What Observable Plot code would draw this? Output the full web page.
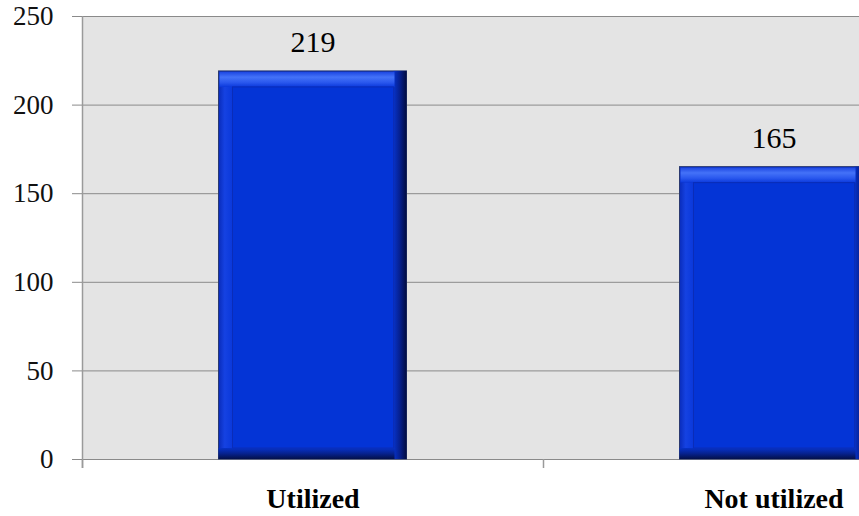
<!DOCTYPE html>
<html>
<head>
<meta charset="utf-8">
<script src="https://cdn.jsdelivr.net/npm/d3@7"></script>
<script src="https://cdn.jsdelivr.net/npm/@observablehq/plot@0.6"></script>
<style>
  html, body { margin: 0; padding: 0; background: #ffffff; overflow: hidden; }
  #chart { width: 859px; height: 516px; overflow: hidden; }
  #chart svg { max-width: none !important; display: block; }
  #chart svg text { font-family: "Liberation Serif", "Times New Roman", serif !important; }
</style>
</head>
<body>
<div id="chart"></div>
<script>
// ---- data ----
const categories = ["Utilized", "Not utilized"];
const values = [219, 165];
const yTicks = [0, 50, 100, 150, 200, 250];
const xBoundaries = [0, 1, 2];

const data = categories.map((c, i) => ({category: c, value: values[i], i}));

const serif = "Liberation Serif, Times New Roman, serif";
const barInset = 136.5; // px on each side of a 461px category slot
const bx1 = d => d.i, bx2 = d => d.i + 1;

const chart = Plot.plot({
  width: 1010,
  height: 516,
  marginLeft: 82,
  marginRight: 6,
  marginTop: 16,
  marginBottom: 57,
  style: {fontFamily: serif, fontSize: "27px", color: "#000", background: "transparent", overflow: "hidden", maxWidth: "none"},
  x: {type: "linear", domain: [0, 2], axis: null},
  y: {domain: [0, 250], axis: null},
  marks: [
    Plot.frame({fill: "#e4e4e4", stroke: null}),
    Plot.gridY(yTicks, {stroke: "#8a8a8a", strokeOpacity: 1, strokeWidth: 1}),
    // left axis line extending below baseline
    Plot.ruleX([0], {stroke: "#9a9a9a", strokeWidth: 1.5, insetBottom: -9}),
    // x boundary ticks
    Plot.axisX(xBoundaries, {tickSize: 9, tickFormat: () => "", stroke: "#9a9a9a", strokeWidth: 1.5}),
    // y axis ticks + labels
    Plot.axisY(yTicks, {tickSize: 10, tickPadding: 19, stroke: "#8a8a8a", fill: "#111", fontSize: 27, fontFamily: serif, label: null}),
    // bars: layered bevel
    Plot.rectY(data, {x1: bx1, x2: bx2, y: "value", insetLeft: barInset, insetRight: barInset, fill: "#0a2fc4", stroke: "#2b3a70", strokeWidth: 1}),
    Plot.rectY(data, {x1: bx1, x2: bx2, y: "value", insetLeft: barInset + 175, insetRight: barInset, fill: "url(#gR)"}),
    Plot.rect(data, {x1: bx1, x2: bx2, y1: 0, y2: 0, insetLeft: barInset, insetRight: barInset + 12, insetTop: -11, insetBottom: 0, fill: "url(#gB)"}),
    Plot.rect(data, {x1: bx1, x2: bx2, y1: "value", y2: "value", insetLeft: barInset + 1, insetRight: barInset + 12, insetTop: 1, insetBottom: -16, fill: "url(#gT)"}),
    Plot.rectY(data, {x1: bx1, x2: bx2, y: "value", insetLeft: barInset + 1, insetRight: barInset + 174, insetTop: 16, insetBottom: 11, fill: "url(#gL)"}),
    Plot.rectY(data, {x1: bx1, x2: bx2, y: "value", insetLeft: barInset + 14, insetRight: barInset + 13, insetTop: 16, insetBottom: 11, fill: "#0434d6", stroke: "#0a2cb8", strokeWidth: 1}),
    // value labels
    Plot.text(data, {x: d => d.i + 0.5, y: "value", text: d => String(d.value), dy: -29, fontSize: 30, fontFamily: serif, fill: "#000"}),
    // category labels
    Plot.text(data, {x: d => d.i + 0.5, text: "category", frameAnchor: "bottom", dy: 48, fontSize: 28, fontWeight: "bold", fontFamily: serif, fill: "#000"})
  ]
});

// gradients for bevel
const ns = "http://www.w3.org/2000/svg";
const defs = document.createElementNS(ns, "defs");
defs.innerHTML = `
  <linearGradient id="gR" x1="0" y1="0" x2="1" y2="0">
    <stop offset="0" stop-color="#0732c8"/>
    <stop offset="0.5" stop-color="#061f8c"/>
    <stop offset="1" stop-color="#020c40"/>
  </linearGradient>
  <linearGradient id="gB" x1="0" y1="0" x2="0" y2="1">
    <stop offset="0" stop-color="#0732c8"/>
    <stop offset="0.5" stop-color="#06228f"/>
    <stop offset="1" stop-color="#03104a"/>
  </linearGradient>
  <linearGradient id="gT" x1="0" y1="0" x2="0" y2="1">
    <stop offset="0" stop-color="#1d47e2"/>
    <stop offset="0.35" stop-color="#4472f8"/>
    <stop offset="0.7" stop-color="#2a58ee"/>
    <stop offset="1" stop-color="#0b39dc"/>
  </linearGradient>
  <linearGradient id="gL" x1="0" y1="0" x2="1" y2="0">
    <stop offset="0" stop-color="#0b2fc0"/>
    <stop offset="0.4" stop-color="#1542e2"/>
    <stop offset="1" stop-color="#0a38da"/>
  </linearGradient>`;
chart.insertBefore(defs, chart.firstChild);

document.getElementById("chart").appendChild(chart);
</script>
</body>
</html>
